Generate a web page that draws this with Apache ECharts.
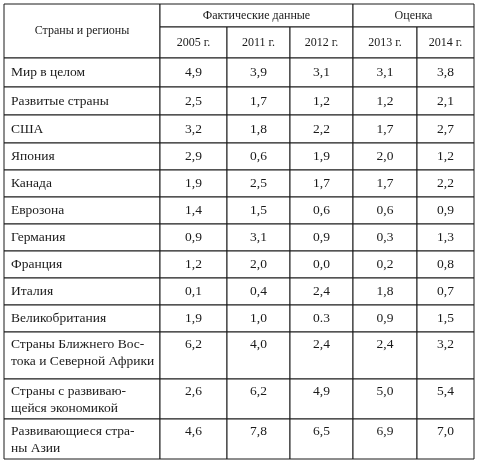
<!DOCTYPE html>
<html><head><meta charset="utf-8">
<script src="https://cdn.jsdelivr.net/npm/echarts@6/dist/echarts.min.js"></script>
<style>html,body{margin:0;padding:0;background:#fff}#c{width:477px;height:465px}</style>
</head><body><div id="c"></div>
<script>
const headerTitle = 'Страны и регионы';
const groups = ['Фактические данные', 'Оценка'];
const years = ['2005 г.', '2011 г.', '2012 г.', '2013 г.', '2014 г.'];
const regions = ['Мир в целом','Развитые страны','США','Япония','Канада','Еврозона','Германия','Франция','Италия','Великобритания','Страны Ближнего Вос-\nтока и Северной Африки','Страны с развиваю-\nщейся экономикой','Развивающиеся стра-\nны Азии'];
const v2005 = ['4,9','2,5','3,2','2,9','1,9','1,4','0,9','1,2','0,1','1,9','6,2','2,6','4,6'];
const v2011 = ['3,9','1,7','1,8','0,6','2,5','1,5','3,1','2,0','0,4','1,0','4,0','6,2','7,8'];
const v2012 = ['3,1','1,2','2,2','1,9','1,7','0,6','0,9','0,0','2,4','0.3','2,4','4,9','6,5'];
const v2013 = ['3,1','1,2','1,7','2,0','1,7','0,6','0,3','0,2','1,8','0,9','2,4','5,0','6,9'];
const v2014 = ['3,8','2,1','2,7','1,2','2,2','0,9','1,3','0,8','0,7','1,5','3,2','5,4','7,0'];

// layout (pixel units of hidden axes)
const colX = [4,160,227,290,353,417,474];
const rowY = [58,87,115,143,170,197,224,251,278,305,332,379,419,459];
const hTop = 4, hMid = 27;
const values = [v2005,v2011,v2012,v2013,v2014];
const F = '"Liberation Serif","DejaVu Serif",serif';

// cells: [x0,y0,x1,y1,textIdx,kind]
const texts = [], cells = [];
function add(x0,y0,x1,y1,t,kind){ texts.push(t); cells.push([x0,y0,x1,y1,texts.length-1,kind]); }
add(colX[0],hTop,colX[1],rowY[0],headerTitle,0);
add(colX[1],hTop,colX[4],hMid,groups[0],0);
add(colX[4],hTop,colX[6],hMid,groups[1],0);
years.forEach((y,i)=>add(colX[i+1],hMid,colX[i+2],rowY[0],y,0));
regions.forEach((r,ri)=>{
  const multi = r.indexOf('\n')>=0;
  add(colX[0],rowY[ri],colX[1],rowY[ri+1],r,multi?2:1);
  values.forEach((arr,ci)=>add(colX[ci+1],rowY[ri],colX[ci+2],rowY[ri+1],arr[ri],multi?4:3));
});

const chart = echarts.init(document.getElementById('c'));
chart.setOption({
  animation:false,
  grid:{left:0,right:0,top:0,bottom:0},
  xAxis:{type:'value',min:0,max:477,show:false},
  yAxis:{type:'value',min:0,max:465,inverse:true,show:false},
  series:[{
    type:'custom',
    data:cells,
    encode:{x:[0,2],y:[1,3]},
    renderItem:function(params,api){
      const p0 = api.coord([api.value(0),api.value(1)]);
      const p1 = api.coord([api.value(2),api.value(3)]);
      const t = texts[api.value(4)], kind = api.value(5);
      const w = p1[0]-p0[0], h = p1[1]-p0[1];
      let tx, ty, align, vAlign;
      if(kind===0 || kind===3){ tx=p0[0]+w/2; ty=p0[1]+h/2; align='center'; vAlign='middle'; }
      else if(kind===1){ tx=p0[0]+7; ty=p0[1]+h/2; align='left'; vAlign='middle'; }
      else if(kind===2){ tx=p0[0]+7; ty=p0[1]+4; align='left'; vAlign='top'; }
      else { tx=p0[0]+w/2; ty=p0[1]+4; align='center'; vAlign='top'; }
      const big = kind!==0;
      return {type:'group',children:[
        {type:'rect',shape:{x:p0[0],y:p0[1],width:w,height:h},style:{fill:'#fff',stroke:'#1a1a1a',lineWidth:1}},
        {type:'text',x:tx,y:ty,style:{text:t,fill:'#1a1a1a',font:(big?'13.5px ':'12px ')+F,align:align,verticalAlign:vAlign,lineHeight:17}}
      ]};
    }
  }]
});
</script></body></html>
